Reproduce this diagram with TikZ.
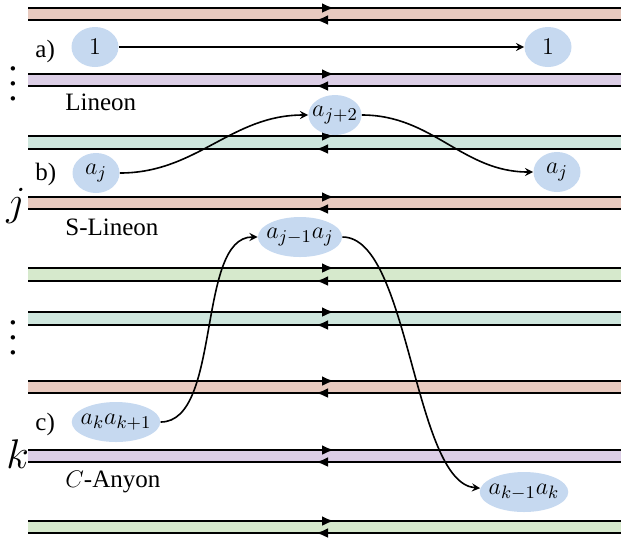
\documentclass[tikz,border=0pt]{standalone}
\usepackage[no-math]{fontspec}
\setmainfont{Liberation Serif}
\usetikzlibrary{shapes.geometric, arrows, arrows.meta, positioning, calc}
\definecolor{pinkband}{RGB}{232,202,191}
\definecolor{purpleband}{RGB}{220,206,230}
\definecolor{tealband}{RGB}{206,230,221}
\definecolor{greenband}{RGB}{214,233,204}
\definecolor{anyoncolor}{RGB}{198,217,240}

\begin{document}
\begin{tikzpicture}[
    x=0.5pt, y=-0.5pt,
    font=\fontsize{12.5}{15}\selectfont,
    anyon/.style={ellipse, fill=anyoncolor, inner xsep=-2pt, inner ysep=0pt, minimum width=23.5pt, minimum height=20pt},
    caption/.style={anchor=base west, inner sep=0pt},
    site/.style={anchor=base west, inner sep=0pt, font=\fontsize{20.5}{24}\selectfont},
    dots/.style={anchor=base, inner sep=0pt, font=\fontsize{10}{12}\selectfont},
    bandline/.style={line width=1.2pt},
    bandtip/.style={bandline, -{Latex[length=6pt, width=5pt]}},
    arrow/.style={->, >=stealth, thick}
]
    \useasboundingbox (0,0) rectangle (621,538);

    % Bands
    \foreach \ytop/\ybot/\col in {8/20/pinkband, 74/86/purpleband, 136/149/tealband,
        197/209/pinkband, 268/281/greenband, 312/325/tealband,
        381/393/pinkband, 450/462/purpleband, 521/533/greenband}{
        \fill[\col] (28,\ytop) rectangle (621,\ybot);
        \draw[bandline] (28,\ytop) -- (621,\ytop);
        \draw[bandline] (28,\ybot) -- (621,\ybot);
        \draw[bandtip] (300,\ytop) -- (334,\ytop);
        \draw[bandtip] (350,\ybot) -- (316,\ybot);
    }

    % a) Lineon
    \node[anyon] (oneL) at (95,47) {$1$};
    \node[anyon] (oneR) at (548,47) {$1$};
    \node[caption] (labela) at (35,57) {a)};
    \node[caption] (lineon) at (65,110) {Lineon};
    \node[dots] (dotsA) at (13,100) {\scalebox{1.85}{$\vdots$}};

    % b) S-Lineon
    \node[anyon] (ajL) at (96,173) {$a_j$};
    \node[anyon] (ajtwo) at (335,115) {$a_{j+2}$};
    \node[anyon] (ajR) at (557,172) {$a_j$};
    \node[caption] (labelb) at (35,180) {b)};
    \node[caption] (slineon) at (65,235) {S-Lineon};
    \node[site] (sitej) at (6,215) {$j$};

    % c) C-Anyon
    \node[anyon] (ajpair) at (300,237) {$a_{j-1}a_j$};
    \node[anyon] (akpair) at (116,422) {$a_ka_{k+1}$};
    \node[anyon] (akmpair) at (524,492) {$a_{k-1}a_k$};
    \node[caption] (labelc) at (35,430) {c)};
    \node[caption] (canyon) at (65,487) {$C$-Anyon};
    \node[site] (sitek) at (6,468) {$k$};
    \node[dots] (dotsB) at (13,354) {\scalebox{1.85}{$\vdots$}};

    % Arrows
    \draw[arrow] (oneL) -- (oneR);
    \draw[arrow] (ajL) to[out=0, in=180] (ajtwo);
    \draw[arrow] (ajtwo) to[out=0, in=180] (ajR);
    \draw[arrow] (akpair) to[out=0, in=180, looseness=0.75] (ajpair);
    \draw[arrow] (ajpair) to[out=0, in=175, looseness=0.6] (akmpair);

\end{tikzpicture}
\end{document}
